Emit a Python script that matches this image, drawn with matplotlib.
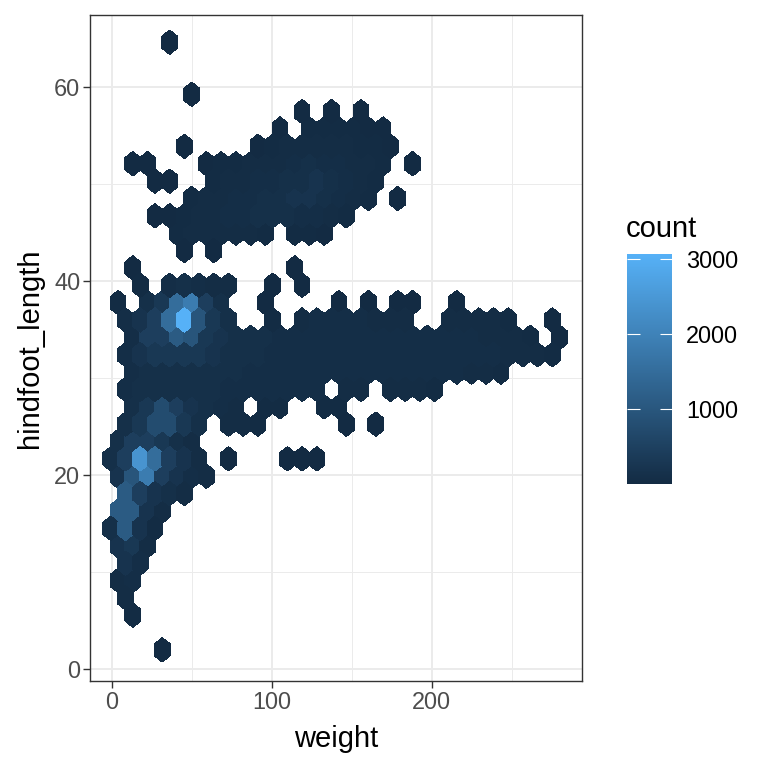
import numpy as np
import matplotlib
matplotlib.use("Agg")
import matplotlib.pyplot as plt
from matplotlib.colors import LinearSegmentedColormap

plt.rcParams['font.family'] = ['Liberation Sans', 'DejaVu Sans']

# surveys data binned into hexagons (30 bins over each axis range)
weight_range = (4, 280)
hindfoot_range = (2, 64)
n_bins = 30

# one string per hex row, top row first, one character per hexagon
# ('.' = empty cell, letters = count level, see count_codes)
hex_rows = [
    "....a",
    "",
    "",
    "......a",
    ".............a.a.a",
    "............a.bbbbaa",
    ".....a....abcccccbba",
    "..aa...abbcccdeddccb.a",
    "...aa..bccddeefedcb",
    "......bccddeeffedcb.a",
    "...aabccddeeeddcb",
    ".....bcccccb.bba",
    ".....a.a",
    "..a..........a",
    "..b.dedcc..a.a",
    ".b.eglmhe..a....a.a.aa..a",
    ".dfhlpjge..b.cddddccc..ccccb..a",
    "..dhhkjgfeee" + "dddddddddddddd" + "cccb.a",
    ".dfggggfeeeddddddddddddddddcccb",
    "..deeeeeeedddddddddddddddccb",
    ".deeeeeeddddddd.cc.cccb",
    "..egihfedc.bb..bb",
    ".egiige.ccb.....a.a",
    ".ehhgec",
    "ehnlhfc.a...aaa",
    ".fjmhfdc",
    ".khfec",
    ".kkfc",
    "ekfb",
    ".fgc",
    ".fd",
    ".cd",
    ".c",
    "..b",
    "",
    "....a",
]

count_codes = {'a': 2, 'b': 15, 'c': 40, 'd': 70, 'e': 120, 'f': 200,
               'g': 300, 'h': 450, 'i': 750, 'j': 950, 'k': 1100,
               'l': 1500, 'm': 1850, 'n': 2400, 'p': 3066}

color_ticks = [1000, 2000, 3000]

# hex grid geometry (geom_hex default binning)
bin_w = (weight_range[1] - weight_range[0]) / n_bins
row_h = (hindfoot_range[1] - hindfoot_range[0]) * np.sqrt(3) / (2 * n_bins)
x0 = weight_range[0] - bin_w
y0 = hindfoot_range[0]
nx, ny = 31, 18

weight, hindfoot, count = [], [], []
for r, row in enumerate(hex_rows[::-1]):
    for i, ch in enumerate(row):
        if ch == '.':
            continue
        weight.append(x0 + (i + 0.5 * (r % 2)) * bin_w)
        hindfoot.append(y0 + r * row_h)
        count.append(count_codes[ch])

cmap = LinearSegmentedColormap.from_list("gg", ["#132B43", "#56B1F7"])

fig = plt.figure(figsize=(7.68, 7.68), dpi=100)
ax = fig.add_axes([90/768, 1-681/768, 492/768, 666/768])

hb = ax.hexbin(weight, hindfoot, C=count, reduce_C_function=np.sum,
               gridsize=(nx, ny),
               extent=(x0, x0 + nx*bin_w, y0, y0 + ny*2*row_h),
               cmap=cmap, vmin=1, vmax=3066,
               linewidths=0.7, edgecolors='face')
hb.set_antialiased(False)

ax.set_xlim(-13.56, 293.9)
ax.set_ylim(-1.21, 67.45)
ax.set_xticks([0, 100, 200])
ax.set_xticks([50, 150, 250], minor=True)
ax.set_yticks([0, 20, 40, 60])
ax.set_yticks([10, 30, 50], minor=True)
ax.grid(which='major', color='#EBEBEB', lw=1.4)
ax.grid(which='minor', color='#EBEBEB', lw=0.7)
ax.set_axisbelow(True)
ax.tick_params(which='minor', length=0)
ax.tick_params(which='major', length=5, width=1.0, color='#333333',
               labelcolor='#4D4D4D', labelsize=16.9, pad=2)
for s in ax.spines.values():
    s.set_color('#333333')
    s.set_linewidth(1.0)

ax.set_xlabel("weight", fontsize=21, labelpad=8)
ax.set_ylabel("hindfoot_length", fontsize=21, labelpad=7)

cax = fig.add_axes([627/768, 1-484/768, 45/768, 230/768])
cb = fig.colorbar(hb, cax=cax, ticks=color_ticks)
cb.outline.set_visible(False)
cax.tick_params(axis='y', direction='in', length=9, width=0.8, color='white',
                left=True, right=True, labelleft=False, labelright=True,
                labelsize=16.9, labelcolor='black', pad=10)
fig.text(626/768, 1-237/768, "count", fontsize=21, ha='left', va='baseline')

plt.savefig("out.png", dpi=100)
